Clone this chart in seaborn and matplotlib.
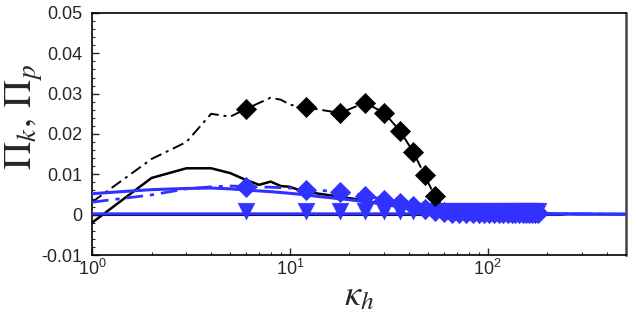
import seaborn as sns
import matplotlib
matplotlib.use("Agg")
import matplotlib.pyplot as plt
import matplotlib.ticker as mticker
import pandas as pd

# black dash-dot curve (Pi_k)
k_pik = [1, 2, 3, 4, 5, 6, 7, 8, 9, 10, 11, 12, 18, 24, 30, 36, 42, 48, 54, 58, 62, 66, 72, 100, 150, 200, 240]
pik = [0.0031, 0.0138, 0.0180, 0.0250, 0.0243, 0.0262, 0.0277, 0.0290, 0.0285, 0.0273, 0.0268, 0.0266,
       0.0252, 0.0278, 0.0252, 0.0208, 0.0156, 0.0098, 0.0046, 0.0026, 0.0014, 0.0008, 0.0005, 0.0004,
       0.0004, 0.0004, 0.0]
k_pik_mk = [6, 12, 18, 24, 30, 36, 42, 48, 54]
pik_mk = [0.0262, 0.0266, 0.0252, 0.0278, 0.0252, 0.0208, 0.0156, 0.0098, 0.0046]

# black solid curve
k_blk = [1, 2, 3, 4, 5, 6, 7, 8, 9, 10, 11, 12, 14, 17, 20, 25, 30, 40, 50, 56, 60, 70, 100, 240]
blk = [-0.0020, 0.0091, 0.0115, 0.0115, 0.0103, 0.0086, 0.0074, 0.0082, 0.0071, 0.0069, 0.0062, 0.0057,
       0.0052, 0.0046, 0.0041, 0.0033, 0.0027, 0.0017, 0.0009, 0.0005, 0.0003, 0.0001, 0.0, 0.0]

# black line near zero
k_blk0 = [1, 10, 100, 240]
blk0 = [0.0, 0.0, 0.0, 0.0]

# blue dash-dot curve (Pi_p) with diamonds
k_pip = [1, 2, 3, 4, 5, 6, 8, 10, 12, 18, 24, 30, 36, 42, 48, 54, 60, 72, 100, 200, 500]
pip = [0.0031, 0.0049, 0.0064, 0.0069, 0.0071, 0.0070, 0.0068, 0.0066, 0.0062, 0.0057, 0.0047, 0.0038,
       0.0030, 0.0022, 0.0015, 0.0010, 0.0007, 0.0004, 0.0003, 0.0002, 0.0001]
k_pip_mk = list(range(6, 181, 6))
pip_mk = [0.0069, 0.0062, 0.0057, 0.0046, 0.0037, 0.0030, 0.0021, 0.0015, 0.0010, 0.0007,
          0.0005, 0.0004, 0.0004, 0.0004, 0.0004, 0.0004, 0.0004, 0.0004, 0.0004, 0.0004,
          0.0004, 0.0004, 0.0004, 0.0004, 0.0004, 0.0004, 0.0004, 0.0004, 0.0004, 0.0004]

# blue solid smooth curve
k_bsm = [1, 1.5, 2, 3, 4, 5, 6, 8, 10, 12, 14, 20, 30, 35, 40, 50, 70, 100, 200, 500]
bsm = [0.0052, 0.0058, 0.0062, 0.0065, 0.0066, 0.0064, 0.0061, 0.0057, 0.0053, 0.0049, 0.0045, 0.0037,
       0.0026, 0.0020, 0.0016, 0.0010, 0.0005, 0.0003, 0.0002, 0.0001]

# blue solid near zero with down triangles
k_b0 = [1, 10, 100, 200, 500]
b0 = [0.0002, 0.0002, 0.0002, 0.0002, 0.0001]
k_b0_mk = list(range(6, 181, 6))
b0_mk = [0.0008] * len(k_b0_mk)

blue = "#3232ff"
dashdot = (0, (6, 2.5, 1.5, 2.5))

sns.set_style("ticks")
plt.rcParams["font.family"] = ["Liberation Sans", "DejaVu Sans"]
plt.rcParams["mathtext.fontset"] = "stix"

fig = plt.figure(figsize=(6.37, 3.13), dpi=100)
ax = fig.add_axes([0.1444, 0.1853, 0.8383, 0.7732])

sns.lineplot(x=k_blk0, y=blk0, ax=ax, color="black", lw=1.5, zorder=2)
sns.lineplot(x=k_blk, y=blk, ax=ax, color="black", lw=1.8, zorder=2)
sns.lineplot(x=k_pik, y=pik, ax=ax, color="black", lw=1.4, linestyle=dashdot, zorder=2)

sns.lineplot(x=k_bsm, y=bsm, ax=ax, color=blue, lw=2.2, zorder=3)
sns.lineplot(x=k_pip, y=pip, ax=ax, color=blue, lw=2.0, linestyle=dashdot, zorder=3)
sns.lineplot(x=k_b0, y=b0, ax=ax, color=blue, lw=2.2, zorder=3)
sns.scatterplot(x=k_pip_mk, y=pip_mk, ax=ax, marker="D", s=105, color=blue, edgecolor=blue,
                linewidth=0.5, zorder=4)
sns.scatterplot(x=k_b0_mk, y=b0_mk, ax=ax, marker="v", s=140, color=blue, edgecolor=blue,
                linewidth=0.5, zorder=4)
sns.scatterplot(x=k_pik_mk, y=pik_mk, ax=ax, marker="D", s=105, color="black", edgecolor="black",
                linewidth=0.5, zorder=5)

ax.set_xscale("log")
ax.set_xlim(1, 500)
ax.set_ylim(-0.01, 0.05)
ax.set_yticks([-0.01, 0, 0.01, 0.02, 0.03, 0.04, 0.05])
ax.yaxis.set_major_formatter(mticker.FuncFormatter(lambda v, p: "0" if abs(v) < 1e-9 else f"{v:.2f}"))
ax.yaxis.set_minor_locator(mticker.MultipleLocator(0.002))
ax.xaxis.set_minor_locator(mticker.LogLocator(base=10, subs=range(2, 10)))

ax.tick_params(axis="both", which="major", direction="in", length=5, width=1, labelsize=13)
ax.tick_params(axis="both", which="minor", direction="in", length=2.5, width=0.8)
ax.tick_params(axis="y", which="major", pad=7)
ax.tick_params(axis="x", which="major", pad=3)

for side in ["top", "bottom", "left"]:
    ax.spines[side].set_linewidth(1.2)
    ax.spines[side].set_color("black")
ax.spines["right"].set_linewidth(1.8)
ax.spines["right"].set_color("#444444")

ax.set_ylabel(r"$\Pi_k,\,\Pi_p$", fontsize=28)
ax.yaxis.set_label_coords(-0.088, 0.57)
ax.set_xlabel(r"$\kappa_h$", fontsize=26)
ax.xaxis.set_label_coords(0.5, -0.095)

fig.savefig("out.png", dpi=100)
